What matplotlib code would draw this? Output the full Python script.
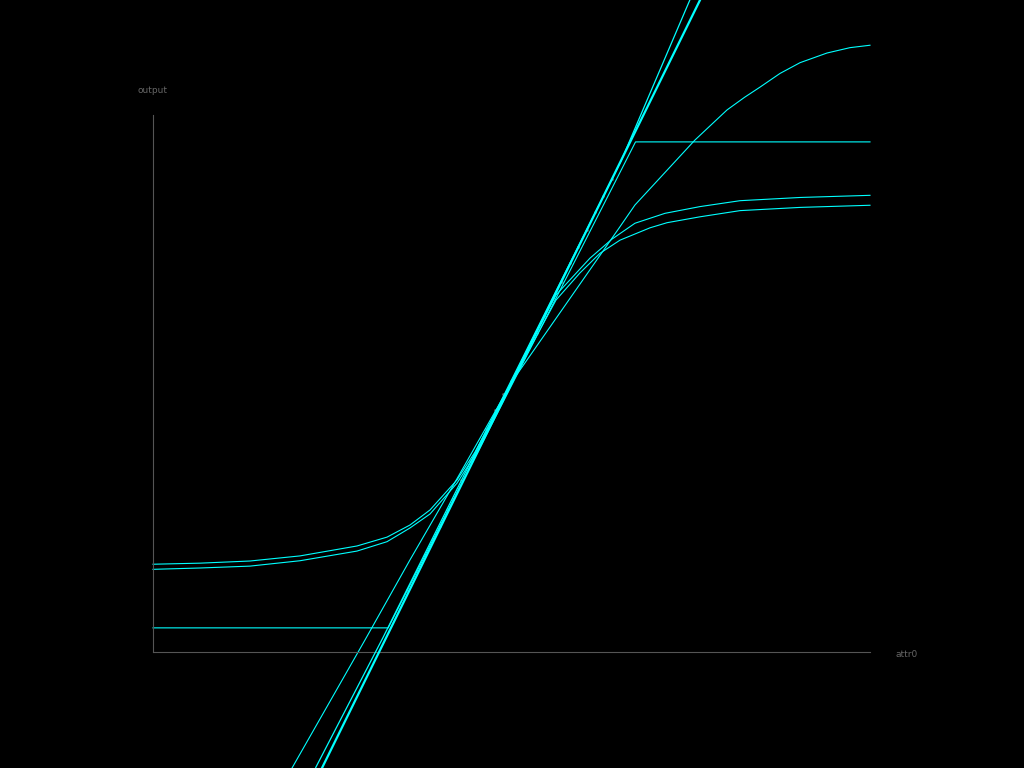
import matplotlib
matplotlib.use('Agg')
import matplotlib.pyplot as plt

# clamped (hard) response
clamp_x = [-5.0, -1.72, 1.73, 5.0]
clamp_y = [-0.91, -0.91, 0.90, 0.90]

# two sigmoid-like fits
sig_upper_x = [-5.0, -4.344, -3.647, -2.950, -2.155, -1.736, -1.416, -1.137, -0.760, -0.509,
               -0.091, 0.258, 0.621, 1.095, 1.402, 1.722, 2.141, 2.629, 3.187, 4.024, 5.0]
sig_upper_y = [-0.673, -0.669, -0.661, -0.642, -0.605, -0.572, -0.527, -0.471, -0.359, -0.255,
               -0.043, 0.143, 0.330, 0.467, 0.538, 0.597, 0.634, 0.659, 0.681, 0.693, 0.701]

sig_lower_x = [-5.0, -4.344, -3.647, -2.950, -2.155, -1.736, -1.416, -1.137, -0.760, -0.509,
               -0.091, 0.258, 0.621, 0.955, 1.234, 1.513, 1.932, 2.169, 2.629, 3.187, 4.024, 5.0]
sig_lower_y = [-0.692, -0.687, -0.680, -0.660, -0.624, -0.589, -0.538, -0.486, -0.371, -0.266,
               -0.050, 0.132, 0.311, 0.412, 0.485, 0.534, 0.580, 0.599, 0.621, 0.644, 0.656, 0.664]

# soft saturating fit
soft_x = [-3.061, -2.043, -1.416, -0.746, 0.021, 1.513, 1.722, 2.559, 3.006, 3.25, 3.466,
          3.745, 4.024, 4.400, 4.721, 5.0]
soft_y = [-1.432, -0.955, -0.657, -0.348, 0.013, 0.584, 0.665, 0.907, 1.019, 1.066, 1.104,
          1.155, 1.195, 1.231, 1.251, 1.260]

# linear fits
lin_a_x = [-2.73, -1.79, -0.09, 1.53, 2.49]
lin_a_y = [-1.43, -0.945, -0.035, 0.83, 1.43]
lin_b_x = [-2.643, 2.629]
lin_b_y = [-1.432, 1.428]

# observed samples
obs_x = [-1.46, -1.32, -1.21, -1.10, -1.00, -0.90, -0.82, -0.70, -0.58, -0.46, -0.35, -0.23, -0.12,
         0.0, 0.12, 0.23, 0.35, 0.46, 0.58, 0.70, 0.82, 0.93, 1.05, 1.17, 1.28, 1.40]
obs_y = [-0.77, -0.70, -0.64, -0.58, -0.53, -0.47, -0.43, -0.36, -0.29, -0.23, -0.17, -0.10, -0.04,
         0.01, 0.07, 0.13, 0.19, 0.25, 0.32, 0.38, 0.45, 0.51, 0.57, 0.64, 0.70, 0.76]

cyan = '#00ffff'

fig = plt.figure(figsize=(10.24, 7.68), dpi=100, facecolor='black')
ax = fig.add_axes([0.1494, 0.151, 0.7002, 0.6992])
ax.set_facecolor('black')

ax.scatter(obs_x, obs_y, s=4, color='#555555', linewidths=0, zorder=1)
ax.plot(clamp_x, clamp_y, color=cyan, lw=0.8, clip_on=False, zorder=2)
ax.plot(sig_upper_x, sig_upper_y, color=cyan, lw=0.8, clip_on=False, zorder=2)
ax.plot(sig_lower_x, sig_lower_y, color=cyan, lw=0.8, clip_on=False, zorder=2)
ax.plot(soft_x, soft_y, color=cyan, lw=0.8, clip_on=False, zorder=2)
ax.plot(lin_a_x, lin_a_y, color=cyan, lw=0.9, clip_on=False, zorder=3)
ax.plot(lin_b_x, lin_b_y, color=cyan, lw=1.6, clip_on=False, zorder=3)

ax.set_xlim(-5, 5)
ax.set_ylim(-1, 1)
for side in ['top', 'right']:
    ax.spines[side].set_visible(False)
for side in ['left', 'bottom']:
    ax.spines[side].set_color('#555555')
    ax.spines[side].set_linewidth(0.8)
ax.set_xticks([])
ax.set_yticks([])

ax.text(-0.021, 1.0466, 'output', transform=ax.transAxes, color='#666666',
        fontsize=6.5, ha='left', va='center')
ax.text(1.036, -0.004, 'attr0', transform=ax.transAxes, color='#666666',
        fontsize=6.5, ha='left', va='center')

fig.savefig('out.png', dpi=100, facecolor='black')
